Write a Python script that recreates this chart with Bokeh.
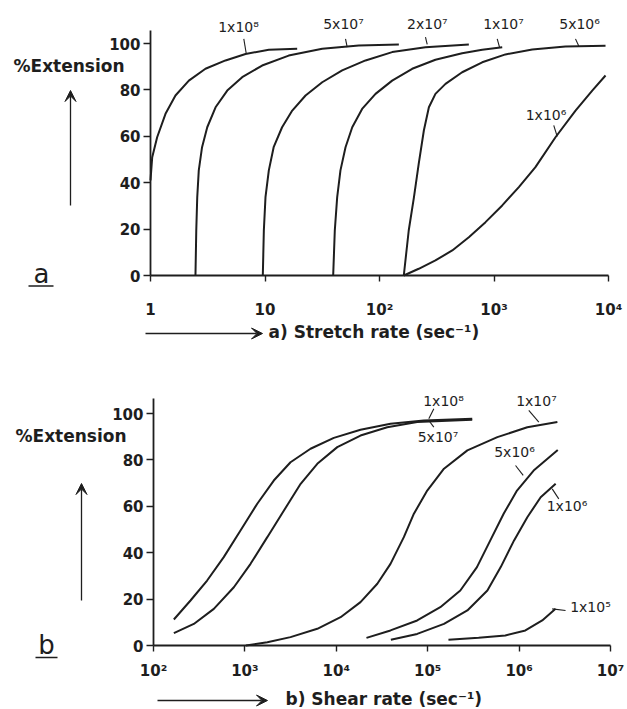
from bokeh.plotting import figure
from bokeh.models import Range1d, FixedTicker, Arrow, VeeHead
from bokeh.core.properties import value
from bokeh.layouts import column
from bokeh.embed import file_html
from bokeh.resources import INLINE

INK = "#1e1e1e"
FONT = "DejaVu Sans"

# ---------------- data: panel a (stretch rate, sec^-1 vs % extension) ----------------
a_ticks = [1, 10, 100, 1000, 10000]
a_tick_labels = ["1", "10", "10²", "10³", "10⁴"]
ext_ticks = [0, 20, 40, 60, 80, 100]

a_1e8_rate = [1.0, 1.035, 1.143, 1.352, 1.652, 2.163, 3.02, 4.52, 6.76, 10.8, 19.1]
a_1e8_ext = [41, 51, 59.6, 69.7, 77.6, 84, 89.1, 92.7, 95.5, 97.3, 97.7]
a_5e7_rate = [2.47, 2.51, 2.56, 2.64, 2.82, 3.13, 3.70, 4.68, 6.32, 9.44, 16.1, 31.6, 65.9, 147.6]
a_5e7_ext = [0, 19.4, 33.8, 45.3, 55.3, 63.9, 72.5, 79.7, 85.5, 90.5, 94.8, 97.7, 99.1, 99.6]
a_2e7_rate = [9.57, 9.77, 10.1, 10.8, 11.9, 14.1, 17.3, 22.6, 31.6, 47.2, 75.5, 129, 252, 603]
a_2e7_ext = [0, 19.4, 33.8, 45.3, 55.3, 63.9, 71.1, 77.6, 83.3, 88.4, 92.7, 96.3, 98.4, 99.6]
a_1e7_rate = [39.4, 40.7, 42.7, 45.6, 50.5, 57.8, 70.5, 92.3, 129, 193, 308, 527, 789, 1180]
a_1e7_ext = [0, 19.4, 33.8, 45.3, 55.3, 63.9, 71.8, 78.3, 84, 89.1, 93.0, 95.8, 97.3, 98.4]
a_5e6_rate = [163, 180, 200, 220, 244, 270, 308, 377, 527, 789, 1259, 2158, 4207, 9419]
a_5e6_ext = [0, 19.4, 33.8, 48.1, 62.5, 72.5, 78.3, 82.6, 87.6, 91.9, 95.3, 97.4, 98.7, 99.0]
a_1e6_rate = [163, 220, 308, 432, 603, 843, 1180, 1648, 2301, 3443, 5152, 7211, 9419]
a_1e6_ext = [0, 2.9, 6.5, 10.8, 16.5, 23.0, 30.2, 38.1, 46.7, 59.6, 71.1, 79.7, 86.2]

a_lab_text = ["1x10⁸", "5x10⁷", "2x10⁷", "1x10⁷", "5x10⁶", "1x10⁶"]
a_lab_x = [5.87, 48.5, 262, 1211, 5585, 2845]
a_lab_y = [107.3, 108.2, 108.2, 108.2, 108.2, 69.2]
a_lead_x0 = [6.53, 50.5, 252, 1067, 5152, 3327]
a_lead_y0 = [102.0, 102.0, 102.7, 102.0, 102.0, 64.7]
a_lead_x1 = [6.85, 52.2, 261, 1117, 5508, 3565]
a_lead_y1 = [95.8, 98.4, 99.6, 98.4, 98.8, 59.9]

# ---------------- data: panel b (shear rate, sec^-1 vs % extension) ----------------
b_ticks = [100, 1000, 10000, 100000, 1000000, 10000000]
b_tick_labels = ["10²", "10³", "10⁴", "10⁵", "10⁶", "10⁷"]

b_1e8_rate = [167, 254, 386, 587, 895, 1365, 2070, 3155, 5224, 9397, 18400, 39170, 90600, 307000]
b_1e8_ext = [11.2, 19.4, 28.0, 38.1, 49.6, 61.1, 71.1, 79.0, 84.8, 89.5, 93.0, 95.6, 97.0, 97.7]
b_5e7_rate = [167, 276, 457, 757, 1153, 1758, 2673, 4074, 6194, 10250, 18400, 36060, 76740, 307000]
b_5e7_ext = [5.3, 9.3, 15.8, 25.1, 35.2, 46.7, 58.2, 69.7, 78.3, 85.5, 90.5, 94.1, 96.3, 97.3]
b_1e7_rate = [1026, 1758, 3155, 6194, 11140, 18400, 28100, 39170, 54830, 70630, 98850,
              150700, 271600, 578100, 1230000, 2624000]
b_1e7_ext = [0, 1.4, 3.6, 7.2, 12.2, 18.7, 26.6, 35.2, 46.7, 56.8, 66.8, 76.2, 84.1, 89.8, 94.1, 96.3]
b_5e6_rate = [21380, 39170, 76740, 137400, 227500, 345900, 484200, 677600, 948500, 1442000, 2649000]
b_5e6_ext = [3.3, 6.5, 10.8, 16.5, 23.7, 33.8, 45.3, 56.8, 66.8, 75.4, 84.3]
b_1e6_rate = [39530, 76740, 150700, 271600, 449800, 629600, 881000, 1230000, 1722000, 2512000]
b_1e6_ext = [2.5, 5.0, 9.3, 15.1, 23.7, 33.8, 45.3, 55.3, 63.9, 69.7]
b_1e5_rate = [168700, 360600, 706300, 1172000, 1791000, 2506000]
b_1e5_ext = [2.5, 3.3, 4.3, 6.5, 10.8, 15.8]

b_lab_text = ["1x10⁸", "5x10⁷", "1x10⁷", "5x10⁶", "1x10⁶", "1x10⁵"]
b_lab_x = [148900, 129700, 1549000, 891000, 3342000, 6039000]
b_lab_y = [105.2, 89.9, 105.2, 83.6, 60.1, 16.4]
b_lead_x0 = [116700, 102800, 1276000, 914000, 2303000, 2303000]
b_lead_y0 = [102.0, 97.0, 101.3, 77.6, 67.5, 15.8]
b_lead_x1 = [102800, 116700, 1644000, 1109000, 2718000, 3221000]
b_lead_y1 = [97.7, 94.1, 96.3, 73.3, 63.2, 15.1]

# ---------------- layout helpers (pixel -> data, used only for decorations) ----------------
W = 627
A_H, B_H = 340, 369
PX_PER_PCT = 2.32


def a_x(px):
    return 10 ** ((px - 150) / 114.5)


def a_y(py):
    return (275 - py) / PX_PER_PCT


def b_x(px):
    return 10 ** (2 + (px - 153) / 91.4)


def b_y(py):
    return (305 - py) / PX_PER_PCT


def make_panel(height, xr, yr, ticks, tick_labels, xbounds, ybound_top, x_standoff):
    p = figure(width=W, height=height, x_axis_type="log",
               x_range=Range1d(*xr), y_range=Range1d(*yr),
               output_backend="svg", toolbar_location=None, title=None,
               min_border=0, min_border_left=0, min_border_right=0,
               min_border_top=0, min_border_bottom=0)
    p.outline_line_color = None
    p.xgrid.visible = False
    p.ygrid.visible = False
    p.background_fill_color = "white"
    p.border_fill_color = "white"

    xa = p.xaxis[0]
    xa.fixed_location = 0
    xa.bounds = xbounds
    xa.ticker = FixedTicker(ticks=ticks)
    xa.major_label_overrides = {t: lab for t, lab in zip(ticks, tick_labels)}
    xa.major_label_standoff = x_standoff

    ya = p.yaxis[0]
    ya.fixed_location = xbounds[0]
    ya.bounds = (0, ybound_top)
    ya.ticker = FixedTicker(ticks=ext_ticks)
    ya.major_label_standoff = 3

    for ax in (xa, ya):
        ax.axis_line_color = INK
        ax.axis_line_width = 1.8
        ax.major_tick_line_color = INK
        ax.major_tick_line_width = 1.4
        ax.major_tick_in = 0
        ax.major_tick_out = 7
        ax.minor_tick_in = 0
        ax.minor_tick_out = 0
        ax.major_label_text_font = FONT
        ax.major_label_text_font_style = "bold"
        ax.major_label_text_font_size = "15px"
        ax.major_label_text_color = INK
    xa.major_tick_out = 6
    return p


def add_text(p, x, y, txt, size, style="normal", align="left"):
    p.text(x=[x], y=[y], text=[txt], text_font=value(FONT), text_font_size=size,
           text_font_style=style, text_align=align, text_baseline="middle",
           text_color=INK)


def arrow(p, x0, y0, x1, y1, size):
    p.add_layout(Arrow(end=VeeHead(size=size, fill_color=INK, line_color=INK, line_width=1),
                       x_start=x0, y_start=y0, x_end=x1, y_end=y1,
                       line_color=INK, line_width=1.3))


def draw_panel(p, curves, lab, lead):
    for xs, ys in curves:
        p.line(xs, ys, line_width=2, line_color=INK)
    p.segment(*lead, line_width=1.1, line_color=INK)
    p.text(x=lab[1], y=lab[2], text=lab[0], text_font=value(FONT), text_font_size="14px",
           text_align="center", text_baseline="middle", text_color=INK)


# ---------------- panel a ----------------
pa = make_panel(A_H, (a_x(0), a_x(W)), (a_y(A_H), a_y(0)),
                a_ticks, a_tick_labels, (1, 10000), a_y(30), 19)
draw_panel(pa,
           [(a_1e8_rate, a_1e8_ext), (a_5e7_rate, a_5e7_ext), (a_2e7_rate, a_2e7_ext),
            (a_1e7_rate, a_1e7_ext), (a_5e6_rate, a_5e6_ext), (a_1e6_rate, a_1e6_ext)],
           (a_lab_text, a_lab_x, a_lab_y),
           (a_lead_x0, a_lead_y0, a_lead_x1, a_lead_y1))

add_text(pa, a_x(13), a_y(65), "%Extension", "17px", "bold")
arrow(pa, a_x(70), a_y(205), a_x(70), a_y(90), 11)
add_text(pa, a_x(41), a_y(273), "a", "26px", align="center")
pa.line([a_x(28), a_x(53)], [a_y(285.5), a_y(285.5)], line_width=1.4, line_color=INK)
arrow(pa, a_x(145), a_y(333), a_x(262), a_y(333), 11)
add_text(pa, a_x(268), a_y(331), "a) Stretch rate (sec⁻¹)", "17px", "bold")

# ---------------- panel b ----------------
pb = make_panel(B_H, (b_x(0), b_x(W)), (b_y(B_H), b_y(0)),
                b_ticks, b_tick_labels, (100, 10000000), b_y(58), 10)
draw_panel(pb,
           [(b_1e8_rate, b_1e8_ext), (b_5e7_rate, b_5e7_ext), (b_1e7_rate, b_1e7_ext),
            (b_5e6_rate, b_5e6_ext), (b_1e6_rate, b_1e6_ext), (b_1e5_rate, b_1e5_ext)],
           (b_lab_text, b_lab_x, b_lab_y),
           (b_lead_x0, b_lead_y0, b_lead_x1, b_lead_y1))

add_text(pb, b_x(15), b_y(95), "%Extension", "17px", "bold")
arrow(pb, b_x(81), b_y(260), b_x(81), b_y(143), 11)
add_text(pb, b_x(46), b_y(304), "b", "26px", align="center")
pb.line([b_x(35), b_x(57)], [b_y(317), b_y(317)], line_width=1.4, line_color=INK)
arrow(pb, b_x(157), b_y(360), b_x(267), b_y(360), 11)
add_text(pb, b_x(285), b_y(358), "b) Shear rate (sec⁻¹)", "17px", "bold")

layout = column(pa, pb, spacing=0)
open("out.html", "w").write(file_html(layout, INLINE))
